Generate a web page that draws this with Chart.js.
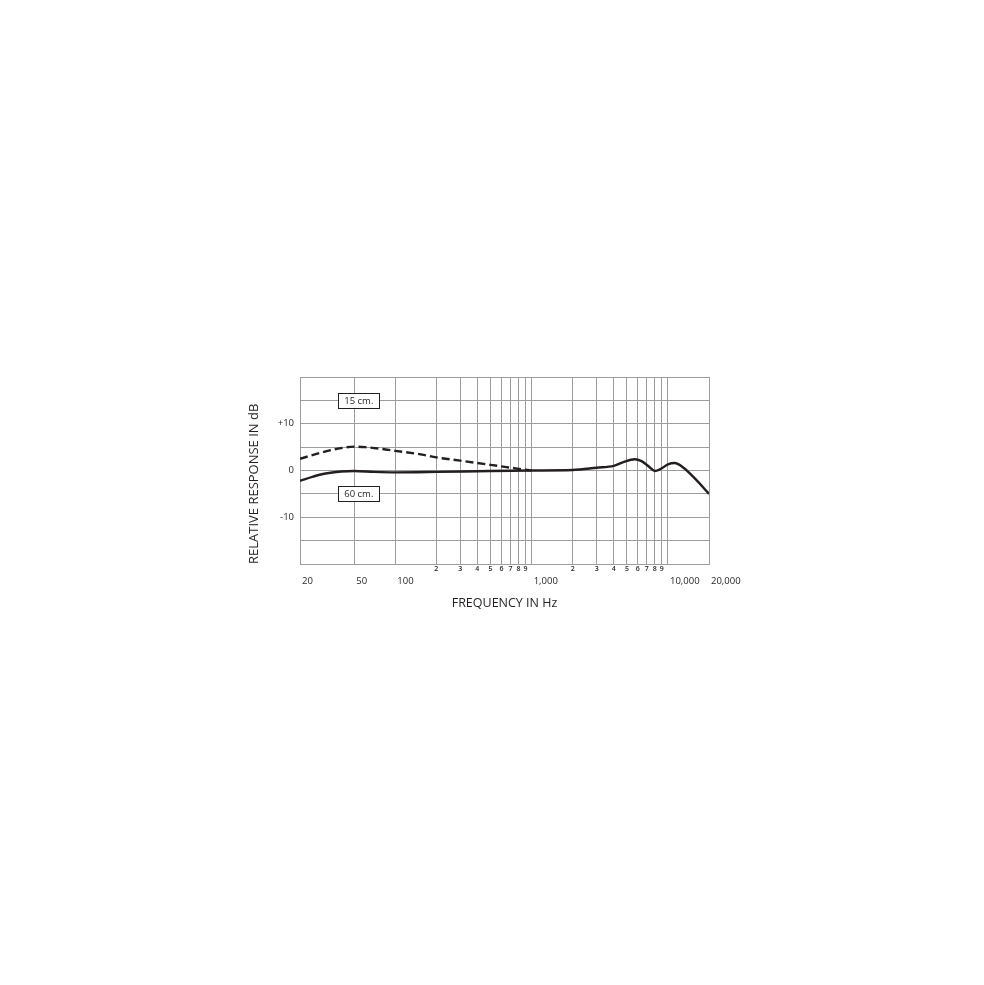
<!DOCTYPE html>
<html>
<head>
<meta charset="utf-8">
<script src="https://cdn.jsdelivr.net/npm/chart.js@4.4.1/dist/chart.umd.min.js"></script>
<style>
  html, body { margin: 0; padding: 0; background: #ffffff; }
  #wrap { position: absolute; left: 0; top: 0; width: 984px; height: 985px; }
</style>
</head>
<body>
<div id="wrap"><canvas id="respChart" width="984" height="985"></canvas></div>
<script>
// frequency response
const freq60 = [20, 25, 30, 40, 50, 70, 100, 200, 500, 1000, 2000, 3000, 4000, 4700, 5700, 6400, 7200, 8000, 8800, 10000, 11200, 13000, 16000, 20000];
const db60 = [-2.2, -1.3, -0.7, -0.2, -0.1, -0.3, -0.4, -0.3, -0.1, 0, 0.1, 0.6, 1.0, 1.8, 2.4, 2.0, 0.9, -0.1, 0.3, 1.3, 1.6, 0.6, -1.9, -5.0];

const freq15 = [20, 30, 40, 50, 60, 80, 100, 150, 200, 300, 500, 700, 900, 1000];
const db15 = [2.5, 4.0, 4.8, 5.1, 5.0, 4.6, 4.2, 3.5, 2.8, 2.1, 1.2, 0.6, 0.15, 0];

const majorFreqs = [20, 50, 100, 1000, 10000, 20000];
const majorLabels = ["20", "50", "100", "1,000", "10,000", "20,000"];
const minorFreqs = [200, 300, 400, 500, 600, 700, 800, 900, 2000, 3000, 4000, 5000, 6000, 7000, 8000, 9000];
const minorLabels = ["2", "3", "4", "5", "6", "7", "8", "9", "2", "3", "4", "5", "6", "7", "8", "9"];
const gridFreqs = majorFreqs.concat(minorFreqs).sort((a, b) => a - b);

const dbTicks = [10, 0, -10];
const dbTickLabels = ["+10", "0", "-10"];

const noteTexts = ["15 cm.", "60 cm."];
const noteFreqs = [54, 54];
const noteDbs = [15, -5];

const FONT = "'Open Sans', 'DejaVu Sans', sans-serif";
const INK = "#231f20";
const GRID = "#9d9d9d";

function toPoints(xs, ys) {
  return xs.map((x, i) => ({ x, y: ys[i] }));
}

// boxed curve labels ("15 cm." / "60 cm.")
const notePlugin = {
  id: "notes",
  afterDatasetsDraw(chart) {
    const ctx = chart.ctx;
    const xs = chart.scales.x;
    const ys = chart.scales.y;
    ctx.save();
    ctx.font = `9.5px ${FONT}`;
    ctx.textAlign = "center";
    ctx.textBaseline = "middle";
    noteTexts.forEach((text, i) => {
      const cx = xs.getPixelForValue(noteFreqs[i]);
      const cy = ys.getPixelForValue(noteDbs[i]);
      const w = ctx.measureText(text).width + 12;
      const h = 15;
      ctx.fillStyle = "#ffffff";
      ctx.fillRect(cx - w / 2, cy - h / 2, w, h);
      ctx.strokeStyle = INK;
      ctx.lineWidth = 1;
      ctx.strokeRect(Math.round(cx - w / 2) + 0.5, Math.round(cy - h / 2) + 0.5, Math.round(w), h);
      ctx.fillStyle = INK;
      ctx.fillText(text, cx, cy + 0.5);
    });
    ctx.restore();
  },
};

const chartCtx = document.getElementById("respChart");
const respChart = new Chart(chartCtx, {
  type: "line",
  data: {
    datasets: [
      {
        label: "60 cm.",
        data: toPoints(freq60, db60),
        borderColor: INK,
        borderWidth: 2.4,
        pointRadius: 0,
        cubicInterpolationMode: "monotone",
        fill: false,
      },
      {
        label: "15 cm.",
        data: toPoints(freq15, db15),
        borderColor: INK,
        borderWidth: 2.4,
        borderDash: [8, 4],
        pointRadius: 0,
        cubicInterpolationMode: "monotone",
        fill: false,
      },
    ],
  },
  options: {
    responsive: false,
    animation: false,
    devicePixelRatio: 1,
    layout: { padding: { left: 240, top: 377, right: 275, bottom: 374 } },
    plugins: {
      legend: { display: false },
      tooltip: { enabled: false },
    },
    scales: {
      x: {
        type: "logarithmic",
        position: "bottom",
        weight: 0,
        min: 20,
        max: 20000,
        afterBuildTicks: (scale) => {
          scale.ticks = gridFreqs.map((v) => ({ value: v }));
        },
        afterFit: (scale) => {
          scale.height = 12;
        },
        grid: { color: GRID, lineWidth: 1, drawTicks: false },
        border: { display: true, color: GRID, width: 1 },
        ticks: {
          autoSkip: false,
          maxRotation: 0,
          padding: 1,
          color: INK,
          font: { family: FONT, size: 7, weight: "600" },
          callback: (value) => {
            const i = minorFreqs.indexOf(value);
            return i >= 0 ? minorLabels[i] : "";
          },
        },
      },
      x2: {
        type: "logarithmic",
        position: "bottom",
        weight: 1,
        min: 20,
        max: 20000,
        afterBuildTicks: (scale) => {
          scale.ticks = majorFreqs.map((v) => ({ value: v }));
        },
        afterFit: (scale) => {
          scale.height = 35;
        },
        grid: { display: false, drawTicks: false },
        border: { display: false },
        ticks: {
          autoSkip: false,
          maxRotation: 0,
          align: "start",
          labelOffset: 2,
          padding: 0,
          color: INK,
          font: { family: FONT, size: 9.5 },
          callback: (value) => {
            const i = majorFreqs.indexOf(value);
            return i >= 0 ? majorLabels[i] : "";
          },
        },
        title: {
          display: true,
          text: "FREQUENCY IN Hz",
          color: INK,
          font: { family: FONT, size: 12.5 },
          padding: { top: 0, bottom: 0 },
        },
      },
      y: {
        type: "linear",
        min: -20,
        max: 20,
        afterBuildTicks: (scale) => {
          const vals = [];
          for (let v = -20; v <= 20; v += 5) vals.push({ value: v });
          scale.ticks = vals;
        },
        afterFit: (scale) => {
          scale.width = 60;
        },
        grid: { color: GRID, lineWidth: 1, drawTicks: false },
        border: { display: true, color: GRID, width: 1 },
        ticks: {
          padding: 6,
          color: INK,
          font: { family: FONT, size: 9.5 },
          callback: (value) => {
            const i = dbTicks.indexOf(value);
            return i >= 0 ? dbTickLabels[i] : "";
          },
        },
        title: {
          display: true,
          text: "RELATIVE RESPONSE IN dB",
          align: "start",
          color: INK,
          font: { family: FONT, size: 13 },
          padding: { top: 6, bottom: 0 },
        },
      },
    },
  },
  plugins: [notePlugin],
});
</script>
</body>
</html>
